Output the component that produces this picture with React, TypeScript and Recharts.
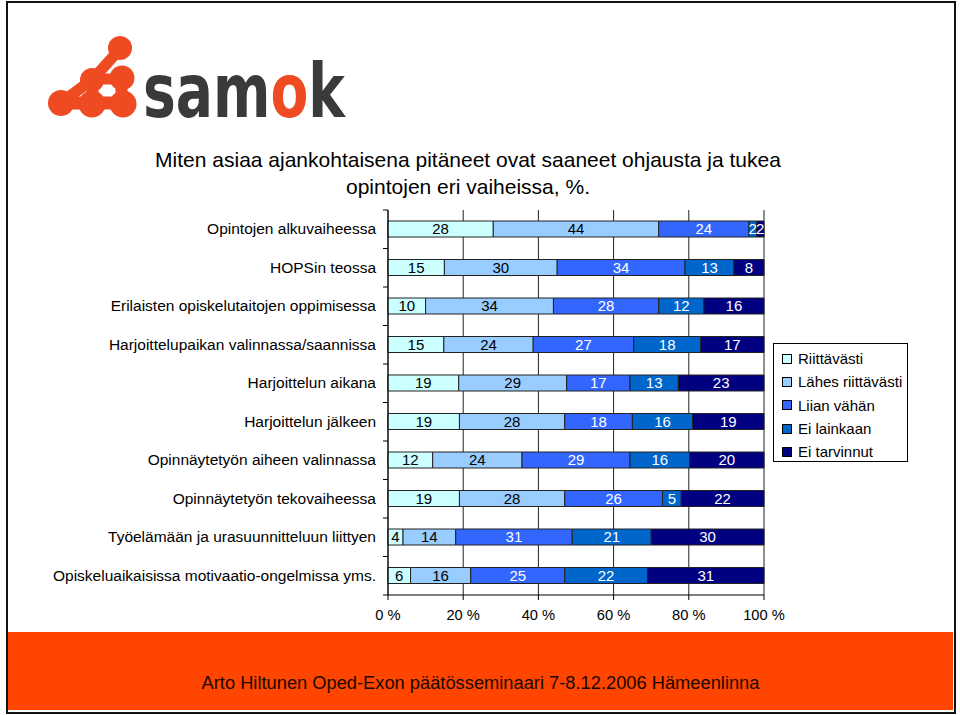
import { BarChart, Bar, XAxis, YAxis, CartesianGrid, LabelList, Legend } from 'recharts'

const categories = [
  'Opintojen alkuvaiheessa',
  'HOPSin teossa',
  'Erilaisten opiskelutaitojen oppimisessa',
  'Harjoittelupaikan valinnassa/saannissa',
  'Harjoittelun aikana',
  'Harjoittelun jälkeen',
  'Opinnäytetyön aiheen valinnassa',
  'Opinnäytetyön tekovaiheessa',
  'Työelämään ja urasuunnitteluun liittyen',
  'Opiskeluaikaisissa motivaatio-ongelmissa yms.',
]

const riittavasti      = [28, 15, 10, 15, 19, 19, 12, 19, 4, 6]
const lahesRiittavasti = [44, 30, 34, 24, 29, 28, 24, 28, 14, 16]
const liianVahan       = [24, 34, 28, 27, 17, 18, 29, 26, 31, 25]
const eiLainkaan       = [2, 13, 12, 18, 13, 16, 16, 5, 21, 22]
const eiTarvinnut      = [2, 8, 16, 17, 23, 19, 20, 22, 30, 31]

const xTicks = [0, 0.2, 0.4, 0.6, 0.8, 1]

const series = [
  { key: 'riit',  name: 'Riittävästi',        color: '#CCFFFF', label: '#000' },
  { key: 'lahes', name: 'Lähes riittävästi',  color: '#99CCFF', label: '#000' },
  { key: 'liian', name: 'Liian vähän',        color: '#3366FF', label: '#fff' },
  { key: 'ei',    name: 'Ei lainkaan',        color: '#0066CC', label: '#fff' },
  { key: 'tarv',  name: 'Ei tarvinnut',       color: '#000080', label: '#fff' },
]

const data = categories.map((cat, i) => ({
  cat,
  riit: riittavasti[i],
  lahes: lahesRiittavasti[i],
  liian: liianVahan[i],
  ei: eiLainkaan[i],
  tarv: eiTarvinnut[i],
}))

const FONT = "'Liberation Sans', Arial, sans-serif"
const W = 960
const H = 715
const margin = { top: 210, right: 196, bottom: 90, left: 8 }
const Y_W = 380
const X_H = 30
const plotLeft = margin.left + Y_W
const plotH = H - margin.top - margin.bottom - X_H
const halfBand = plotH / categories.length / 2

function CatTick(props: any) {
  const { y, payload, index } = props
  return (
    <g>
      <text x={plotLeft - 12} y={y} dy={5} textAnchor="end" fontSize={15.5} fill="#000" fontFamily={FONT}>
        {payload.value}
      </text>
      {index === 0 && (
        <line x1={plotLeft - 5} x2={plotLeft} y1={y - halfBand} y2={y - halfBand} stroke="#000" />
      )}
      <line x1={plotLeft - 5} x2={plotLeft} y1={y + halfBand} y2={y + halfBand} stroke="#000" />
    </g>
  )
}

function LegendBox(props: any) {
  const items = [...(props.payload || [])].sort(
    (a: any, b: any) =>
      series.findIndex(s => s.name === a.value) - series.findIndex(s => s.name === b.value),
  )
  return (
    <div style={{
      border: '1px solid #000', background: '#fff', width: 135, height: 119,
      boxSizing: 'border-box', padding: '3px 0 0 8px', fontFamily: FONT,
    }}>
      {items.map((it: any) => (
        <div key={it.value} style={{ display: 'flex', alignItems: 'center', height: 23.3 }}>
          <span style={{
            width: 8, height: 8, border: '1px solid #000', background: it.color,
            display: 'inline-block', marginRight: 6, flexShrink: 0,
          }} />
          <span style={{ fontSize: 15, color: '#000', whiteSpace: 'nowrap' }}>{it.value}</span>
        </div>
      ))}
    </div>
  )
}

function Logo() {
  const orange = '#EE4B22'
  const fs = 74
  // DejaVu Sans Bold advances, squeezed horizontally to the logo's width
  const oX = (0.595 + 0.675 + 1.042) * fs
  const kX = oX + 0.687 * fs
  return (
    <svg width={500} height={130} style={{ position: 'absolute', left: 0, top: 0 }}>
      <g fill={orange} stroke={orange} strokeLinecap="round">
        <line x1={120} y1={49} x2={93} y2={79} strokeWidth={11} />
        <line x1={93} y1={79} x2={62} y2={102} strokeWidth={11} />
        <line x1={93} y1={79} x2={121} y2={79} strokeWidth={11} />
        <line x1={121} y1={79} x2={122} y2={103} strokeWidth={12} />
        <line x1={62} y1={103} x2={122} y2={103} strokeWidth={13} />
        <line x1={93} y1={79} x2={92} y2={103} strokeWidth={12} />
        <circle cx={120} cy={48} r={12} stroke="none" />
        <circle cx={122} cy={78} r={12.5} stroke="none" />
        <circle cx={92} cy={80} r={12} stroke="none" />
        <circle cx={61} cy={103} r={13} stroke="none" />
        <circle cx={92} cy={104} r={13.5} stroke="none" />
        <circle cx={123} cy={104} r={13.5} stroke="none" />
      </g>
      <g transform="translate(143,117) scale(0.745,1)" fontSize={fs} fontWeight="bold"
        fontFamily="'DejaVu Sans', sans-serif">
        <text x={0} y={0} fill="#3a3a3a">sam</text>
        <text x={oX} y={0} fill={orange}>o</text>
        <text x={kX} y={0} fill="#3a3a3a">k</text>
      </g>
    </svg>
  )
}

export default function App() {
  return (
    <div style={{ position: 'absolute', left: 0, top: 0, width: W, height: H, background: '#fff', fontFamily: FONT }}>
      <Logo />
      <div style={{
        position: 'absolute', left: 0, top: 146, width: 936, textAlign: 'center',
        fontSize: 21, lineHeight: '27px', color: '#000',
      }}>
        Miten asiaa ajankohtaisena pitäneet ovat saaneet ohjausta ja tukea<br />
        opintojen eri vaiheissa, %.
      </div>
      <div style={{ position: 'absolute', left: 0, top: 0 }}>
        <BarChart width={W} height={H} data={data} layout="vertical" stackOffset="expand"
          margin={margin} barSize={16}>
          <CartesianGrid horizontal={false} stroke="#222" />
          <XAxis type="number" domain={[0, 1]} ticks={xTicks} height={X_H}
            tickFormatter={(v: number) => `${Math.round(v * 100)} %`}
            axisLine={{ stroke: '#000' }} tickLine={{ stroke: '#000' }} tickSize={5} tickMargin={10}
            tick={{ fontSize: 14.7, fill: '#000', fontFamily: FONT }} />
          <YAxis type="category" dataKey="cat" width={Y_W} axisLine={{ stroke: '#000' }}
            tickLine={false} tick={<CatTick />} interval={0} />
          <Legend layout="vertical" align="center" verticalAlign="middle"
            wrapperStyle={{ left: 773, top: 343, width: 135, height: 119 }}
            content={<LegendBox />} />
          {series.map(s => (
            <Bar key={s.key} dataKey={s.key} name={s.name} stackId="a" fill={s.color}
              stroke="#222" strokeWidth={1} isAnimationActive={false}>
              <LabelList dataKey={s.key} position="center" fill={s.label}
                fontSize={15} fontFamily={FONT} />
            </Bar>
          ))}
        </BarChart>
      </div>
      <div style={{
        position: 'absolute', left: 8, top: 632, width: 945, height: 78, background: '#FF4500',
        color: '#1a0800', fontSize: 18.3, textAlign: 'center', lineHeight: '20px',
      }}>
        <div style={{ position: 'absolute', left: 0, width: 945, top: 41 }}>
          Arto Hiltunen Oped-Exon päätösseminaari 7-8.12.2006 Hämeenlinna
        </div>
      </div>
      <div style={{
        position: 'absolute', left: 6, top: 1, width: 946, height: 709,
        border: '2px solid #111', pointerEvents: 'none',
      }} />
    </div>
  )
}
